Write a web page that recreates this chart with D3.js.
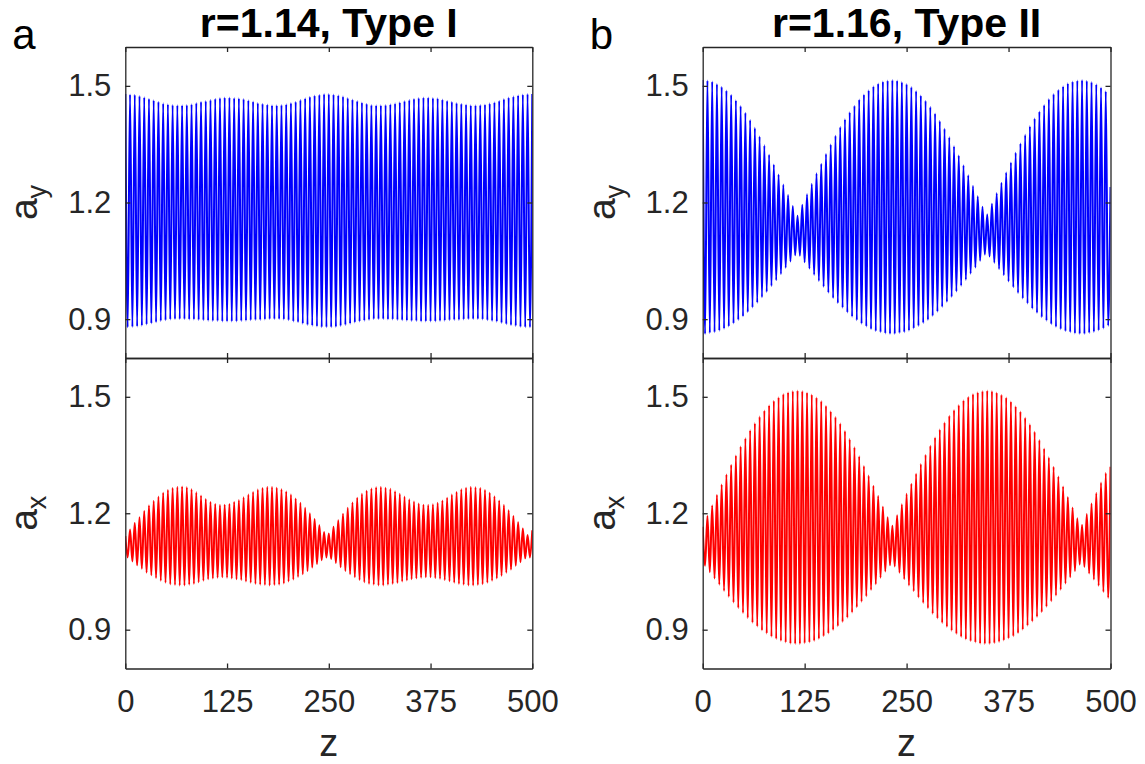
<!DOCTYPE html>
<html><head><meta charset="utf-8">
<script src="https://cdn.jsdelivr.net/npm/d3@7/dist/d3.min.js"></script>
<style>
body{margin:0;background:#fff}
svg{display:block}
text{font-family:Arial,"Liberation Sans",Helvetica,sans-serif;fill:#262626}
</style>
</head><body>
<svg id="chart" width="1145" height="764"></svg>
<script>
// ---------- data ----------
const zTicks = [0, 125, 250, 375, 500];
const yTicks = [0.9, 1.2, 1.5];
const zDomain = [0, 500];
const yDomain = [0.8, 1.6];
const titles = ["r=1.14, Type I", "r=1.16, Type II"];
const panelLetters = ["a", "b"];
const cyclesPerRun = 86;   // fast oscillations between z=0 and z=500

// r=1.14, Type I : a_y (peak / trough of each oscillation)
const ayTypeIPeaks = [1.479,1.478,1.477,1.474,1.471,1.467,1.463,1.459,1.455,1.453,
1.451,1.450,1.450,1.451,1.453,1.456,1.459,1.461,1.464,1.467,
1.469,1.470,1.470,1.469,1.468,1.466,1.463,1.460,1.456,1.454,
1.452,1.450,1.450,1.451,1.453,1.456,1.459,1.464,1.468,1.472,
1.475,1.477,1.479,1.479,1.478,1.476,1.473,1.469,1.465,1.461,
1.457,1.454,1.451,1.450,1.450,1.451,1.453,1.455,1.458,1.461,
1.464,1.467,1.469,1.470,1.470,1.469,1.468,1.465,1.462,1.459,
1.456,1.454,1.452,1.450,1.450,1.451,1.452,1.455,1.458,1.462,
1.466,1.470,1.473,1.476,1.478,1.479,1.479];
const ayTypeITroughs = [0.879,0.880,0.881,0.883,0.886,0.889,0.892,0.895,0.897,0.899,
0.900,0.900,0.900,0.899,0.899,0.898,0.897,0.896,0.895,0.895,
0.894,0.894,0.894,0.894,0.895,0.896,0.897,0.898,0.898,0.899,
0.900,0.900,0.900,0.899,0.897,0.894,0.892,0.888,0.885,0.883,
0.881,0.879,0.879,0.879,0.880,0.882,0.885,0.888,0.891,0.894,
0.896,0.898,0.900,0.900,0.900,0.899,0.899,0.898,0.897,0.896,
0.895,0.895,0.894,0.894,0.894,0.894,0.895,0.896,0.897,0.898,
0.898,0.899,0.900,0.900,0.900,0.899,0.897,0.895,0.893,0.890,
0.887,0.884,0.882,0.880,0.879,0.879];

// r=1.14, Type I : a_x
const axTypeIPeaks = [1.141,1.158,1.175,1.190,1.206,1.220,1.232,1.243,1.253,1.260,
1.265,1.268,1.269,1.267,1.262,1.254,1.246,1.237,1.229,1.224,
1.221,1.222,1.224,1.229,1.234,1.241,1.248,1.255,1.261,1.265,
1.268,1.268,1.266,1.262,1.256,1.248,1.238,1.227,1.214,1.200,
1.185,1.169,1.152,1.148,1.165,1.182,1.199,1.214,1.228,1.240,
1.250,1.258,1.264,1.267,1.268,1.266,1.263,1.257,1.250,1.243,
1.236,1.230,1.225,1.222,1.221,1.223,1.227,1.233,1.240,1.248,
1.255,1.262,1.266,1.268,1.267,1.265,1.260,1.253,1.244,1.233,
1.221,1.208,1.193,1.177,1.161,1.144,1.156];
const axTypeITroughs = [1.086,1.076,1.066,1.057,1.047,1.040,1.033,1.026,1.021,1.017,
1.015,1.014,1.014,1.016,1.018,1.022,1.026,1.030,1.032,1.034,
1.035,1.034,1.032,1.030,1.028,1.024,1.021,1.018,1.016,1.015,
1.014,1.015,1.016,1.019,1.024,1.029,1.036,1.043,1.051,1.060,
1.069,1.079,1.086,1.082,1.072,1.061,1.051,1.043,1.035,1.028,
1.022,1.018,1.016,1.014,1.014,1.016,1.018,1.020,1.024,1.027,
1.030,1.032,1.034,1.035,1.035,1.033,1.031,1.028,1.025,1.021,
1.018,1.016,1.014,1.014,1.015,1.017,1.021,1.026,1.032,1.039,
1.047,1.055,1.065,1.074,1.084,1.086];

// r=1.16, Type II : a_y
const ayTypeIIPeaks = [1.515,1.514,1.511,1.505,1.498,1.488,1.477,1.463,1.448,1.431,
1.412,1.392,1.370,1.347,1.323,1.298,1.272,1.246,1.219,1.191,
1.166,1.194,1.221,1.248,1.275,1.300,1.325,1.349,1.372,1.394,
1.414,1.432,1.449,1.465,1.478,1.489,1.499,1.506,1.511,1.514,
1.515,1.514,1.510,1.505,1.497,1.487,1.475,1.462,1.446,1.429,
1.410,1.390,1.368,1.345,1.321,1.296,1.270,1.243,1.216,1.189,
1.169,1.197,1.224,1.251,1.277,1.303,1.328,1.352,1.374,1.396,
1.416,1.434,1.451,1.466,1.479,1.490,1.499,1.507,1.511,1.514,
1.515,1.513,1.510,1.504,1.496,1.486,1.240];
const ayTypeIITroughs = [0.862,0.864,0.866,0.870,0.875,0.881,0.889,0.898,0.907,0.918,
0.930,0.942,0.956,0.970,0.985,1.000,1.016,1.032,1.048,1.064,
1.063,1.046,1.030,1.014,0.998,0.983,0.968,0.954,0.941,0.929,
0.917,0.906,0.897,0.888,0.881,0.874,0.869,0.866,0.863,0.862,
0.862,0.864,0.866,0.870,0.876,0.882,0.890,0.898,0.908,0.919,
0.931,0.944,0.957,0.971,0.986,1.001,1.017,1.033,1.050,1.066,
1.061,1.045,1.029,1.013,0.997,0.982,0.967,0.953,0.940,0.927,
0.916,0.905,0.896,0.887,0.880,0.874,0.869,0.866,0.863,0.862,
0.862,0.864,0.867,0.871,0.876,0.883];

// r=1.16, Type II : a_x
const axTypeIIPeaks = [1.165,1.193,1.220,1.247,1.274,1.300,1.325,1.349,1.372,1.393,
1.414,1.432,1.449,1.465,1.478,1.490,1.499,1.507,1.512,1.515,
1.516,1.515,1.511,1.506,1.498,1.489,1.477,1.463,1.448,1.431,
1.412,1.391,1.370,1.347,1.322,1.297,1.271,1.245,1.217,1.190,
1.168,1.195,1.223,1.250,1.276,1.302,1.327,1.351,1.374,1.395,
1.416,1.434,1.451,1.466,1.479,1.491,1.500,1.507,1.512,1.515,
1.516,1.515,1.511,1.505,1.498,1.488,1.476,1.462,1.446,1.429,
1.410,1.389,1.367,1.344,1.320,1.295,1.269,1.242,1.215,1.187,
1.170,1.198,1.225,1.252,1.279,1.304,1.320];
const axTypeIITroughs = [1.065,1.048,1.032,1.016,1.000,0.985,0.970,0.956,0.943,0.930,
0.918,0.908,0.898,0.890,0.882,0.876,0.871,0.867,0.864,0.863,
0.863,0.865,0.867,0.871,0.876,0.883,0.890,0.899,0.909,0.920,
0.931,0.944,0.958,0.972,0.986,1.002,1.017,1.034,1.050,1.066,
1.063,1.047,1.030,1.014,0.999,0.983,0.969,0.955,0.941,0.929,
0.917,0.907,0.897,0.889,0.881,0.875,0.870,0.867,0.864,0.863,
0.863,0.865,0.868,0.872,0.877,0.883,0.891,0.900,0.910,0.921,
0.933,0.945,0.959,0.973,0.988,1.003,1.019,1.035,1.051,1.068,
1.062,1.045,1.029,1.013,0.997,0.982];

// ---------- layout ----------
const svg = d3.select("#chart");
const cols = [{x0:125.3, x1:532.3}, {x0:702.7, x1:1110.5}];
const rows = [{y0:47, y1:358}, {y0:358, y1:668.5}];
const axisColor = "#262626";
const tickFont = 31;

const panels = [
  {col:0,row:0,peaks:ayTypeIPeaks,troughs:ayTypeITroughs,color:"#0000ff",sub:"y"},
  {col:0,row:1,peaks:axTypeIPeaks,troughs:axTypeITroughs,color:"#ff0000",sub:"x"},
  {col:1,row:0,peaks:ayTypeIIPeaks,troughs:ayTypeIITroughs,color:"#0000ff",sub:"y"},
  {col:1,row:1,peaks:axTypeIIPeaks,troughs:axTypeIITroughs,color:"#ff0000",sub:"x"}
];

function series(peaks, troughs){
  const half = (zDomain[1]-zDomain[0]) / cyclesPerRun / 2;
  const pts = [];
  const n = Math.min(troughs.length, peaks.length - 1);
  for (let k = 0; k < n; k++){
    pts.push([zDomain[0] + 2*k*half, peaks[k]]);
    pts.push([zDomain[0] + (2*k+1)*half, troughs[k]]);
  }
  pts.push([zDomain[0] + 2*n*half, peaks[n]]);
  return pts;
}

panels.forEach((p, i) => {
  const c = cols[p.col], r = rows[p.row];
  const x = d3.scaleLinear().domain(zDomain).range([c.x0, c.x1]);
  const y = d3.scaleLinear().domain(yDomain).range([r.y1, r.y0]);
  const g = svg.append("g");

  const clipId = "clip" + i;
  svg.append("clipPath").attr("id", clipId).append("rect")
    .attr("x", c.x0).attr("y", r.y0).attr("width", c.x1 - c.x0).attr("height", r.y1 - r.y0);

  const line = d3.line().x(d => x(d[0])).y(d => y(d[1])).curve(d3.curveMonotoneX);
  g.append("path").datum(series(p.peaks, p.troughs))
    .attr("clip-path", `url(#${clipId})`)
    .attr("fill", "none").attr("stroke", p.color).attr("stroke-width", 2)
    .attr("stroke-linejoin", "round")
    .attr("d", line);

  const styleAxis = sel => {
    sel.select(".domain").attr("stroke", axisColor).attr("stroke-width", 1.3);
    sel.selectAll(".tick line").attr("stroke", axisColor).attr("stroke-width", 1.3);
    sel.selectAll(".tick text").attr("fill", axisColor).style("font-size", tickFont + "px")
      .style("font-family", "Arial, 'Liberation Sans', sans-serif");
  };

  // left axis with labels
  g.append("g").attr("transform", `translate(${c.x0},0)`)
    .call(d3.axisLeft(y).tickValues(yTicks).tickFormat(d3.format(".1f"))
      .tickSizeInner(-5).tickSizeOuter(0).tickPadding(14))
    .call(styleAxis).attr("font-family", null).attr("font-size", null);
  // right axis
  g.append("g").attr("transform", `translate(${c.x1},0)`)
    .call(d3.axisRight(y).tickValues(yTicks).tickFormat("").tickSizeInner(-5).tickSizeOuter(0))
    .call(styleAxis);
  // top axis
  g.append("g").attr("transform", `translate(0,${r.y0})`)
    .call(d3.axisTop(x).tickValues(zTicks).tickFormat("").tickSizeInner(-5).tickSizeOuter(0))
    .call(styleAxis);
  // bottom axis
  const bottom = d3.axisBottom(x).tickValues(zTicks).tickSizeInner(-5).tickSizeOuter(0).tickPadding(21);
  if (p.row === 0) bottom.tickFormat("");
  g.append("g").attr("transform", `translate(0,${r.y1})`)
    .call(bottom).call(styleAxis).attr("font-family", null).attr("font-size", null);

  // y label a_x / a_y
  const yl = g.append("text")
    .attr("transform", `translate(${c.x0 - 88},${(r.y0 + r.y1) / 2}) rotate(-90)`)
    .attr("text-anchor", "middle").style("font-size", "39px");
  yl.append("tspan").text("a");
  yl.append("tspan").attr("dy", 9).style("font-size", "27px").text(p.sub);
});

// titles, panel letters, x labels
cols.forEach((c, j) => {
  svg.append("text").attr("x", (c.x0 + c.x1) / 2).attr("y", 37)
    .attr("text-anchor", "middle").style("font-size", "41px").style("font-weight", "bold")
    .style("fill", "#000").text(titles[j]);
  svg.append("text").attr("x", c.x0 - 113).attr("y", 49)
    .style("font-size", "42px").style("fill", "#000").text(panelLetters[j]);
  svg.append("text").attr("x", (c.x0 + c.x1) / 2).attr("y", 756)
    .attr("text-anchor", "middle").style("font-size", "38px").text("z");
});
</script>
</body></html>
